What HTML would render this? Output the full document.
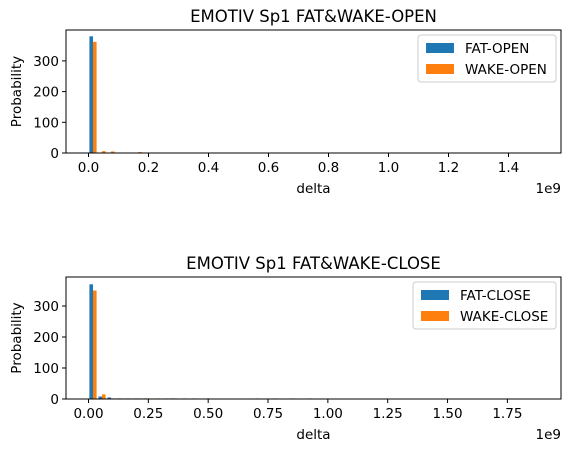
<!DOCTYPE html>
<html><head><meta charset="utf-8"><style>
body{margin:0;background:#fff;width:571px;height:453px;overflow:hidden}
svg{display:block;font-family:"DejaVu Sans","Liberation Sans",sans-serif}
</style></head><body>
<svg id="c" width="571" height="453"></svg>
<script>
// Top panel (OPEN): 50 bins over [0, 1.5]e9
const openBins = 50, openMax = 1.5;
const fatOpen  = [380,0,0,0,0,0,0,0,0,0,0,0,0,0,0,0,0,0,0,0,0,0,0,0,0,0,0,0,0,0,0,0,0,0,0,0,0,0,0,0,0,0,0,0,0,0,0,0,0,1];
const wakeOpen = [362,6,5,0,0,3,0,0,0,0,0,0,0,0,0,0,0,0,0,0,0,0,0,0,0,0,0,0,0,0,0,0,0,0,0,0,0,0,0,0,0,0,0,0,0,0,0,0,0,0];
const openXTicks = [0,0.2,0.4,0.6,0.8,1.0,1.2,1.4];
const openXLabels = ["0.0","0.2","0.4","0.6","0.8","1.0","1.2","1.4"];
// Bottom panel (CLOSE): 50 bins over [0, 1.88]e9
const closeBins = 50, closeMax = 1.88;
const fatClose  = [370,8,5,2,2,2,2,0,0,2,0,0,0,2,0,0,0,0,0,0,0,0,0,0,0,0,0,0,0,0,0,0,0,0,0,0,0,0,0,0,0,0,0,0,0,0,0,0,0,1];
const wakeClose = [350,15,2,2,2,2,2,2,2,2,2,2,0,0,0,0,0,0,2,0,2,0,2,0,2,0,0,0,0,0,0,0,0,0,0,0,0,0,0,0,0,0,0,0,0,0,0,0,0,1];
const closeXTicks = [0,0.25,0.5,0.75,1.0,1.25,1.5,1.75];
const closeXLabels = ["0.00","0.25","0.50","0.75","1.00","1.25","1.50","1.75"];
const yTicks = [0,100,200,300];

const svg = document.getElementById('c');
const NS = 'http://www.w3.org/2000/svg';
function mk(tag, attrs, parent){const e=document.createElementNS(NS,tag);for(const k in attrs)e.setAttribute(k,attrs[k]);(parent||svg).appendChild(e);return e;}

function panel(p){
  const g = mk('g',{});
  
  
  const L=66,R=561,T=p.top,B=p.bottom;
  const lo=-0.05*p.max, hi=p.max*1.05;
  const xs=v=>L+(v-lo)/(hi-lo)*(R-L);
  const ys=v=>B-v*p.yScale;
  const bw=p.max/p.bins;
  for(let i=0;i<p.bins;i++){
    const x0=i*bw;
    [[p.a,'#1f77b4',0],[p.b,'#ff7f0e',1]].forEach(([arr,col,k])=>{
      const v=arr[i]; if(!v) return;
      const xa=xs(x0+bw*0.1+k*bw*0.4), xb=xs(x0+bw*0.1+(k+1)*bw*0.4);
      const r=mk('rect',{x:xa,y:ys(v),width:Math.max(xb-xa,1),height:B-ys(v),fill:col},g);
      
      
    });
  }
  const fr=mk('rect',{x:L,y:T,width:R-L,height:B-T,fill:'none',stroke:'#000','stroke-width':1},g);
  
  
  p.xt.forEach((v,i)=>{
    const x=xs(v);
    mk('line',{x1:x,x2:x,y1:B,y2:B+4,stroke:'#000'},g);
    const t=mk('text',{x:x,y:B+19,'text-anchor':'middle','font-size':13.5},g);
    t.textContent=p.xl[i];
    
    
  });
  yTicks.forEach(v=>{
    const y=ys(v);
    mk('line',{x1:L-4,x2:L,y1:y,y2:y,stroke:'#000'},g);
    const t=mk('text',{x:L-7,y:y+5,'text-anchor':'end','font-size':13.5},g);
    t.textContent=String(v);
    
    
  });
  const tt=mk('text',{x:(L+R)/2,y:T-8,'text-anchor':'middle','font-size':16.5},g);
  tt.textContent=p.title;
  
  
  const xl=mk('text',{x:(L+R)/2,y:B+40,'text-anchor':'middle','font-size':13.5},g);
  xl.textContent='delta';
  
  
  const ex=mk('text',{x:R,y:B+40,'text-anchor':'end','font-size':13.5},g);
  ex.textContent='1e9';
  
  
  const yl=mk('text',{x:0,y:0,'text-anchor':'middle','font-size':13.5,transform:`translate(21,${(T+B)/2}) rotate(-90)`},g);
  yl.textContent='Probability';
  
  
  const lg=mk('g',{},g);
  
  
  mk('rect',{x:p.lx,y:T+5,width:R-5-p.lx,height:47,rx:3,fill:'#fff',stroke:'#ccc'},lg);
  [[p.la,'#1f77b4'],[p.lb,'#ff7f0e']].forEach(([lab,col],i)=>{
    const y=T+13+i*21;
    mk('rect',{x:p.lx+8,y:y,width:28,height:10,fill:col},lg);
    const t=mk('text',{x:p.lx+47,y:y+10,'font-size':13.5},lg);
    t.textContent=lab;
    
    
  });
}
panel({name:'open-panel',top:30,bottom:153,max:openMax,bins:openBins,a:fatOpen,b:wakeOpen,xt:openXTicks,xl:openXLabels,yScale:0.307,title:'EMOTIV Sp1 FAT&WAKE-OPEN',lx:418,la:'FAT-OPEN',lb:'WAKE-OPEN'});
panel({name:'close-panel',top:277,bottom:399,max:closeMax,bins:closeBins,a:fatClose,b:wakeClose,xt:closeXTicks,xl:closeXLabels,yScale:0.31,title:'EMOTIV Sp1 FAT&WAKE-CLOSE',lx:413,la:'FAT-CLOSE',lb:'WAKE-CLOSE'});
</script>
</body></html>
